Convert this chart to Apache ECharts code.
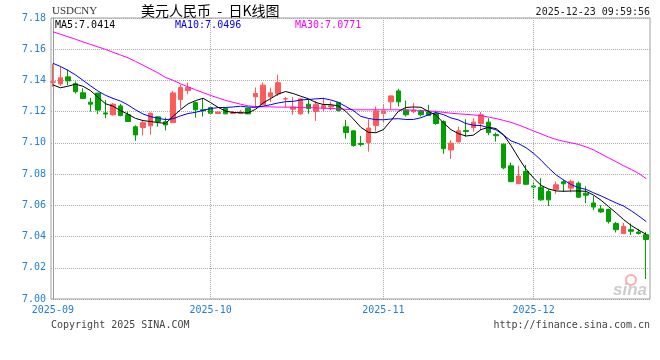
<!DOCTYPE html>
<html><head><meta charset="utf-8">
<script src="https://cdn.jsdelivr.net/npm/echarts@6/dist/echarts.min.js"></script>
<style>html,body{margin:0;padding:0;background:#fff}#c{width:660px;height:360px}</style>
</head><body><div id="c"></div>
<script>
const symbol = 'USDCNY';
const chartTitle = '美元人民币  -  日K线图';
const stamp = '2025-12-23 09:59:56';
const dates = [
'2025-09-02','2025-09-03','2025-09-04','2025-09-05','2025-09-08','2025-09-09','2025-09-10','2025-09-11','2025-09-12','2025-09-15',
'2025-09-16','2025-09-17','2025-09-18','2025-09-19','2025-09-22','2025-09-23','2025-09-24','2025-09-25','2025-09-26','2025-09-29',
'2025-09-30','2025-10-01','2025-10-02','2025-10-03','2025-10-06','2025-10-07','2025-10-08','2025-10-09','2025-10-10','2025-10-13',
'2025-10-14','2025-10-15','2025-10-16','2025-10-17','2025-10-20','2025-10-21','2025-10-22','2025-10-23','2025-10-24','2025-10-27',
'2025-10-28','2025-10-29','2025-10-30','2025-10-31','2025-11-03','2025-11-04','2025-11-05','2025-11-06','2025-11-07','2025-11-10',
'2025-11-11','2025-11-12','2025-11-13','2025-11-14','2025-11-17','2025-11-18','2025-11-19','2025-11-20','2025-11-21','2025-11-24',
'2025-11-25','2025-11-26','2025-11-27','2025-11-28','2025-12-01','2025-12-02','2025-12-03','2025-12-04','2025-12-05','2025-12-08',
'2025-12-09','2025-12-10','2025-12-11','2025-12-12','2025-12-15','2025-12-16','2025-12-17','2025-12-18','2025-12-19','2025-12-22'];
const opens = [
7.1389,7.1378,7.1423,7.1379,7.1321,7.1261,7.1319,7.1192,7.1180,7.1237,
7.1180,7.1103,7.1098,7.1109,7.1167,7.1135,7.1130,7.1278,7.1336,7.1258,
7.1213,7.1226,7.1188,7.1222,7.1188,7.1189,7.1222,7.1295,7.1244,7.1295,
7.1314,7.1281,7.1216,7.1186,7.1248,7.1201,7.1224,7.1230,7.1258,7.1103,
7.1077,7.0996,7.1002,7.1111,7.1189,7.1263,7.1333,7.1210,7.1200,7.1201,
7.1199,7.1190,7.1137,7.0955,7.1006,7.1079,7.1098,7.1124,7.1133,7.1053,
7.0992,7.0853,7.0739,7.0817,7.0724,7.0716,7.0688,7.0700,7.0751,7.0710,
7.0742,7.0678,7.0615,7.0577,7.0573,7.0483,7.0419,7.0444,7.0429,7.0412];
const closes = [
7.1391,7.1417,7.1397,7.1328,7.1284,7.1248,7.1210,7.1185,7.1248,7.1175,
7.1137,7.1051,7.1130,7.1190,7.1137,7.1115,7.1320,7.1355,7.1355,7.1212,
7.1206,7.1190,7.1198,7.1186,7.1194,7.1196,7.1186,7.1316,7.1370,7.1321,
7.1386,7.1283,7.1230,7.1282,7.1220,7.1248,7.1239,7.1238,7.1207,7.1066,
7.0983,7.0990,7.1095,7.1205,7.1205,7.1301,7.1263,7.1180,7.1210,7.1180,
7.1175,7.1124,7.0963,7.0998,7.1077,7.1073,7.1133,7.1180,7.1066,7.1046,
7.0840,7.0752,7.0788,7.0735,7.0717,7.0635,7.0635,7.0732,7.0738,7.0753,
7.0652,7.0665,7.0589,7.0558,7.0496,7.0444,7.0466,7.0434,7.0420,7.0381];
const lows = [
7.1360,7.1365,7.1370,7.1316,7.1284,7.1201,7.1184,7.1158,7.1175,7.1170,
7.1133,7.1013,7.1047,7.1053,7.1104,7.1080,7.1128,7.1218,7.1312,7.1162,
7.1169,7.1188,7.1187,7.1185,7.1186,7.1185,7.1184,7.1226,7.1244,7.1261,
7.1301,7.1226,7.1179,7.1179,7.1186,7.1141,7.1200,7.1210,7.1201,7.1026,
7.0976,7.0977,7.0944,7.1072,7.1126,7.1216,7.1233,7.1169,7.1190,7.1169,
7.1173,7.1115,7.0930,7.0897,7.1002,7.1040,7.1072,7.1083,7.1049,7.1008,
7.0831,7.0747,7.0739,7.0731,7.0643,7.0630,7.0596,7.0674,7.0685,7.0683,
7.0648,7.0614,7.0569,7.0551,7.0483,7.0426,7.0419,7.0410,7.0412,7.0128];
const highs = [
7.1505,7.1489,7.1470,7.1393,7.1350,7.1288,7.1320,7.1274,7.1256,7.1250,
7.1201,7.1113,7.1147,7.1195,7.1172,7.1163,7.1333,7.1372,7.1385,7.1265,
7.1287,7.1228,7.1199,7.1228,7.1205,7.1210,7.1225,7.1355,7.1387,7.1354,
7.1436,7.1293,7.1293,7.1284,7.1275,7.1269,7.1290,7.1265,7.1262,7.1147,
7.1083,7.1045,7.1152,7.1233,7.1244,7.1303,7.1346,7.1271,7.1254,7.1213,
7.1244,7.1207,7.1145,7.1019,7.1104,7.1152,7.1158,7.1197,7.1158,7.1066,
7.0995,7.0874,7.0854,7.0859,7.0752,7.0774,7.0703,7.0753,7.0764,7.0764,
7.0753,7.0721,7.0659,7.0601,7.0579,7.0494,7.0487,7.0483,7.0450,7.0429];
const ma5 = [
7.1372,7.1353,7.1363,7.1376,7.1363,7.1335,7.1293,7.1251,7.1235,7.1207,
7.1184,7.1157,7.1143,7.1137,7.1130,7.1125,7.1170,7.1213,7.1250,7.1271,
7.1286,7.1258,7.1228,7.1203,7.1195,7.1193,7.1192,7.1216,7.1256,7.1284,
7.1313,7.1329,7.1316,7.1299,7.1283,7.1259,7.1246,7.1245,7.1237,7.1202,
7.1153,7.1100,7.1068,7.1065,7.1085,7.1142,7.1202,7.1227,7.1230,7.1228,
7.1202,7.1178,7.1128,7.1085,7.1059,7.1044,7.1050,7.1085,7.1100,7.1092,
7.1052,7.0983,7.0904,7.0831,7.0775,7.0728,7.0705,7.0692,7.0690,7.0692,
7.0692,7.0690,7.0665,7.0632,7.0591,7.0551,7.0508,7.0471,7.0441,7.0414];
const ma10 = [
7.1510,7.1490,7.1465,7.1436,7.1401,7.1366,7.1332,7.1305,7.1285,7.1268,
7.1243,7.1212,7.1185,7.1168,7.1158,7.1149,7.1155,7.1173,7.1188,7.1196,
7.1208,7.1220,7.1226,7.1227,7.1230,7.1235,7.1229,7.1228,7.1235,7.1245,
7.1256,7.1264,7.1266,7.1275,7.1278,7.1282,7.1285,7.1275,7.1260,7.1233,
7.1207,7.1170,7.1157,7.1149,7.1148,7.1153,7.1155,7.1150,7.1150,7.1161,
7.1180,7.1194,7.1181,7.1160,7.1147,7.1124,7.1113,7.1111,7.1097,7.1084,
7.1050,7.1013,7.0995,7.0969,7.0933,7.0889,7.0839,7.0795,7.0762,7.0733,
7.0713,7.0702,7.0680,7.0660,7.0637,7.0615,7.0595,7.0565,7.0532,7.0496];
const ma30 = [
7.1712,7.1696,7.1680,7.1664,7.1647,7.1631,7.1615,7.1599,7.1581,7.1563,
7.1545,7.1522,7.1498,7.1473,7.1448,7.1419,7.1401,7.1378,7.1359,7.1340,
7.1322,7.1304,7.1288,7.1272,7.1260,7.1248,7.1237,7.1233,7.1231,7.1231,
7.1229,7.1229,7.1228,7.1226,7.1226,7.1224,7.1222,7.1220,7.1218,7.1215,
7.1212,7.1212,7.1212,7.1212,7.1212,7.1212,7.1212,7.1211,7.1210,7.1208,
7.1205,7.1201,7.1196,7.1190,7.1186,7.1183,7.1179,7.1175,7.1165,7.1156,
7.1144,7.1131,7.1115,7.1096,7.1076,7.1058,7.1038,7.1022,7.1010,7.1000,
7.0990,7.0974,7.0955,7.0929,7.0904,7.0879,7.0853,7.0830,7.0804,7.0771];

const AXIS_BLUE = '#1f7fd4';
const MONO = '"DejaVu Sans Mono", monospace';
const last = a => a[a.length - 1].toFixed(4);

const candles = dates.map((d, i) => [i, opens[i], closes[i], lows[i], highs[i]]);
const toLine = arr => arr.map((v, i) => [i, v]);
const monthStarts = [];
dates.forEach((d, i) => { if (i === 0 || d.slice(0, 7) !== dates[i - 1].slice(0, 7)) monthStarts.push(i); });

const chart = echarts.init(document.getElementById('c'), null, {renderer: 'canvas'});
chart.setOption({
  animation: false,
  backgroundColor: '#fff',
  grid: {left: 51, right: 10, top: 18, bottom: 61, show: true, borderColor: '#a0a0a0', borderWidth: 1, backgroundColor: 'transparent'},
  xAxis: {
    type: 'value', min: -0.25, max: 79.5,
    axisLine: {show: false},
    axisTick: {show: false},
    splitLine: {show: false},
    axisLabel: {
      customValues: monthStarts,
      formatter: v => dates[Math.round(v)] ? dates[Math.round(v)].slice(0, 7) : '',
      color: AXIS_BLUE, fontFamily: MONO, fontSize: 10, margin: 6
    }
  },
  yAxis: {
    type: 'value', min: 7.00, max: 7.18, interval: 0.02,
    axisLine: {show: true, lineStyle: {color: '#999', width: 1}},
    axisTick: {show: false},
    splitLine: {show: true, lineStyle: {color: '#aaa', type: 'dotted', width: 1}},
    axisLabel: {formatter: v => v.toFixed(2), color: AXIS_BLUE, fontFamily: MONO, fontSize: 10, margin: 5}
  },
  series: [
    {
      type: 'line', data: [], z: 1, silent: true,
      markLine: {
        silent: true, symbol: ['none', 'none'], label: {show: false},
        lineStyle: {color: '#aaa', type: 'dotted', width: 1},
        data: monthStarts.filter(i => i > 0).map(i => ({xAxis: i}))
      }
    },
    {
      type: 'candlestick', data: candles, z: 3,
      encode: {x: 0, y: [1, 2, 3, 4]},
      barWidth: 5,
      itemStyle: {color: '#ff5a5a', color0: '#00a000', borderColor: '#ff5a5a', borderColor0: '#00a000', borderWidth: 1}
    },
    {type: 'line', data: toLine(ma30), z: 4, symbol: 'none', lineStyle: {color: '#ff00ff', width: 1}},
    {type: 'line', data: toLine(ma10), z: 5, symbol: 'none', lineStyle: {color: '#0000ff', width: 1}},
    {type: 'line', data: toLine(ma5), z: 6, symbol: 'none', lineStyle: {color: '#000000', width: 1}}
  ],
  graphic: [
    {type: 'text', left: 52, top: 6, style: {text: symbol, font: '11px "Liberation Serif"', fill: '#333'}},
    {type: 'text', left: 141, top: 4, style: {text: chartTitle, font: '14px "Noto Sans CJK SC"', fill: '#000'}},
    {type: 'text', right: 10, top: 7, style: {text: stamp, font: '10px ' + MONO, fill: '#222'}},
    {type: 'text', left: 55, top: 20, z: 10, style: {text: 'MA5:' + last(ma5), font: '10px ' + MONO, fill: '#000'}},
    {type: 'text', left: 175, top: 20, z: 10, style: {text: 'MA10:' + last(ma10), font: '10px ' + MONO, fill: '#0000ff'}},
    {type: 'text', left: 295, top: 20, z: 10, style: {text: 'MA30:' + last(ma30), font: '10px ' + MONO, fill: '#ff00ff'}},
    {type: 'text', left: 51, top: 320, style: {text: 'Copyright 2025 SINA.COM', font: '10px ' + MONO, fill: '#444'}},
    {type: 'text', right: 10, top: 320, style: {text: 'http://finance.sina.com.cn', font: '10px ' + MONO, fill: '#444'}},
    {type: 'circle', shape: {cx: 631, cy: 280, r: 5}, style: {fill: 'none', stroke: 'rgba(240,110,110,0.55)', lineWidth: 2}, z: 0},
    {type: 'text', left: 613, top: 282, z: 0, style: {text: 'sina', font: 'italic bold 17px "Liberation Sans"', fill: 'rgba(170,170,170,0.6)'}}
  ]
});
</script>
</body></html>
